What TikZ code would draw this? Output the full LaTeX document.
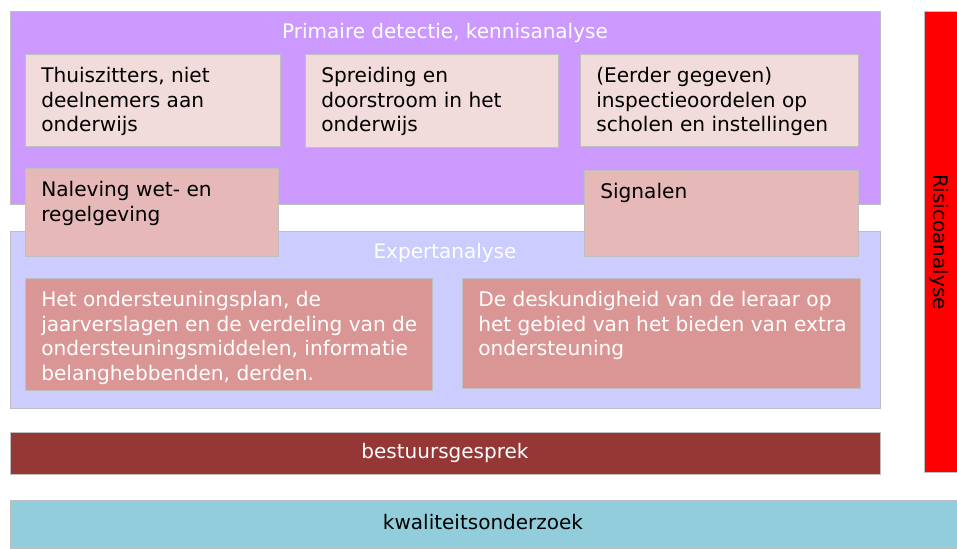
\documentclass[tikz,border=0pt]{standalone}
\usepackage{fontspec}
\setmainfont{DejaVu Sans}
\definecolor{paars}{HTML}{CC99FF}
\definecolor{lila}{HTML}{CCCCFF}
\definecolor{lichtroze}{HTML}{F2DCDB}
\definecolor{roze}{HTML}{E6B8B7}
\definecolor{oudroze}{HTML}{DA9694}
\definecolor{donkerrood}{HTML}{953735}
\definecolor{lichtblauw}{HTML}{92CDDC}
\definecolor{rand}{HTML}{BFBFBF}

\begin{document}
\begin{tikzpicture}[x=0.75pt,y=-0.75pt,
  vak/.style={draw=rand,line width=0.75pt},
  tekst/.style={anchor=north west,inner sep=0pt,align=left,font=\fontsize{15.1}{18.4}\selectfont},
  kop/.style={inner sep=0pt,font=\fontsize{15}{18}\selectfont}]
\useasboundingbox (0,0) rectangle (957,549);
% lagen
\draw[vak,fill=paars] (10,12) rectangle (880,205);
\node[kop,text=white] (primair) at (445,33) {Primaire detectie, kennisanalyse};
\draw[vak,fill=lila] (10,232) rectangle (880,408);
\node[kop,text=white] (expert) at (445,253) {Expertanalyse};
% bronnen primaire detectie
\draw[vak,fill=lichtroze] (25,55) rectangle (280,147);
\node[tekst] (thuis) at (41,67) {Thuiszitters, niet\\deelnemers aan\\onderwijs};
\draw[vak,fill=lichtroze] (305,55) rectangle (558,148);
\node[tekst] (spreiding) at (321,67) {Spreiding en\\doorstroom in het\\onderwijs};
\draw[vak,fill=lichtroze] (580,55) rectangle (858,147);
\node[tekst] (oordelen) at (596,67) {(Eerder gegeven)\\inspectieoordelen op\\scholen en instellingen};
\draw[vak,fill=roze] (25,169) rectangle (278,256);
\node[tekst] (naleving) at (41,181) {Naleving wet- en\\regelgeving};
\draw[vak,fill=roze] (584,171) rectangle (858,256);
\node[tekst] (signalen) at (600,183) {Signalen};
% bronnen expertanalyse
\draw[vak,fill=oudroze] (25,278) rectangle (432,390);
\node[tekst,text=white] (plan) at (41,291) {Het ondersteuningsplan, de\\jaarverslagen en de verdeling van de\\ondersteuningsmiddelen, informatie\\belanghebbenden, derden.};
\draw[vak,fill=oudroze] (462,278) rectangle (860,388);
\node[tekst,text=white] (leraar) at (478,291) {De deskundigheid van de leraar op\\het gebied van het bieden van extra\\ondersteuning};
% balken
\draw[vak,fill=donkerrood] (10,432) rectangle (880,474);
\node[kop,text=white] (gesprek) at (445,453) {bestuursgesprek};
\draw[vak,fill=lichtblauw] (10,500) rectangle (957,548);
\node[kop] (onderzoek) at (483,522) {kwaliteitsonderzoek};
\draw[vak,fill=red] (924,12) rectangle (957,472);
\node[kop,rotate=-90] (risico) at (939,242) {Risicoanalyse};
\end{tikzpicture}
\end{document}
